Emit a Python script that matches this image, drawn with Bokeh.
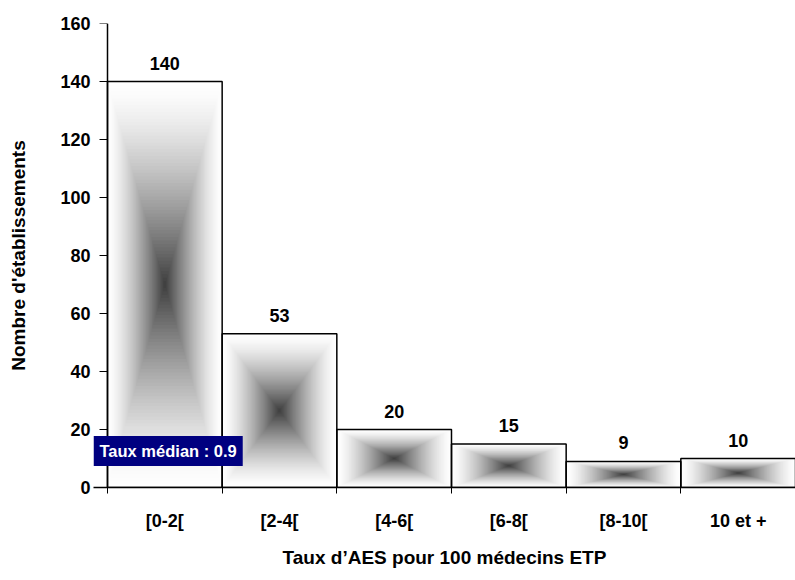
from bokeh.plotting import figure
from bokeh.models import Range1d, FixedTicker, Label, ColumnDataSource, LinearAxis
from bokeh.core.properties import value
from bokeh.embed import file_html
from bokeh.resources import INLINE

# ---- data ----
categories = ["[0-2[", "[2-4[", "[4-6[", "[6-8[", "[8-10[", "10 et +"]
counts = [140, 53, 20, 15, 9, 10]
y_ticks = [0, 20, 40, 60, 80, 100, 120, 140, 160]
median_text = "Taux médian : 0.9"
x_title = "Taux d\u2019AES pour 100 médecins ETP"
y_title = "Nombre d'établissements"

FONT = "Liberation Sans"

# frame starts a little left of the y axis so that the median box can overhang it
p = figure(width=795, height=575, output_backend="svg", toolbar_location=None,
           x_range=Range1d(-0.122, len(categories)), y_range=Range1d(0, 160),
           min_border_left=93, min_border_right=0, min_border_top=23, min_border_bottom=88)
p.outline_line_color = None
p.xgrid.grid_line_color = None
p.ygrid.grid_line_color = None
p.background_fill_color = "white"

# ---- gradient bars: nested rectangles shrinking toward the centre ----
N = 60
L, R, B, T, C = [], [], [], [], []
for i, v in enumerate(counts):
    for k in range(N):
        t = k / N
        L.append(i + 0.5 * t)
        R.append(i + 1 - 0.5 * t)
        B.append(v / 2 * t)
        T.append(v - v / 2 * t)
        g = int(round(255 - 195 * (t ** 1.4)))
        C.append("#%02x%02x%02x" % (g, g, g))
src = ColumnDataSource(dict(left=L, right=R, bottom=B, top=T, color=C))
p.quad(left="left", right="right", bottom="bottom", top="top", fill_color="color",
       line_color=None, source=src)

# outlines
idx = list(range(len(categories)))
p.quad(left=idx, right=[i + 1 for i in idx], bottom=0, top=counts,
       fill_color=None, line_color="black", line_width=1.5)

# value labels
p.text(x=[i + 0.5 for i in idx], y=counts, text=[str(c) for c in counts],
       text_align="center", text_baseline="bottom", y_offset=-12,
       text_font=value(FONT), text_font_style="bold", text_font_size="18px",
       text_color="black")

# ---- x axis ----
centers = [i + 0.5 for i in idx]
p.xaxis.ticker = FixedTicker(ticks=centers, minor_ticks=list(range(len(categories) + 1)))
p.xaxis.major_label_overrides = {c: lab for c, lab in zip(centers, categories)}
p.xaxis.major_tick_out = 0
p.xaxis.major_tick_in = 0
p.xaxis.minor_tick_out = 6
p.xaxis.minor_tick_in = 0
p.xaxis.minor_tick_line_color = "black"
p.xaxis.major_label_standoff = 17
p.xaxis.axis_label = x_title
p.xaxis.axis_label_standoff = 13

# ---- y axis: labels/title at frame edge (line and ticks hidden) ----
p.yaxis.ticker = FixedTicker(ticks=y_ticks)
p.yaxis.minor_tick_line_color = None
p.yaxis.major_tick_line_color = None
p.yaxis.axis_line_color = None
p.yaxis.major_tick_out = 0
p.yaxis.major_tick_in = 0
p.yaxis.major_label_standoff = 3
p.yaxis.axis_label = y_title
p.yaxis.axis_label_standoff = 28

# ---- y axis line + ticks drawn at x = 0 (no labels) ----
yline = LinearAxis(fixed_location=0, ticker=FixedTicker(ticks=y_ticks),
                   major_tick_in=8, major_tick_out=0, minor_tick_line_color=None,
                   major_label_text_color=None, major_label_standoff=0,
                   axis_line_color="black", axis_line_width=1.5,
                   major_tick_line_color="black")
p.add_layout(yline, "right")

for ax in (p.xaxis[0], p.yaxis[0]):
    ax.major_label_text_font = FONT
    ax.major_label_text_font_style = "bold"
    ax.major_label_text_font_size = "18px"
    ax.major_label_text_color = "black"
    ax.axis_label_text_font = FONT
    ax.axis_label_text_font_style = "bold"
    ax.axis_label_text_font_size = "19px"
    ax.axis_label_text_color = "black"
p.xaxis[0].axis_line_color = "black"
p.xaxis[0].axis_line_width = 1.5

# ---- median label (box overhangs the y axis) ----
p.add_layout(Label(x=-0.122, y=12.6, text=median_text, text_baseline="middle",
                   text_font=FONT, text_font_style="bold", text_font_size="16.5px",
                   text_color="white", background_fill_color="#000080",
                   padding=6))

open("out.html", "w").write(file_html(p, INLINE))
